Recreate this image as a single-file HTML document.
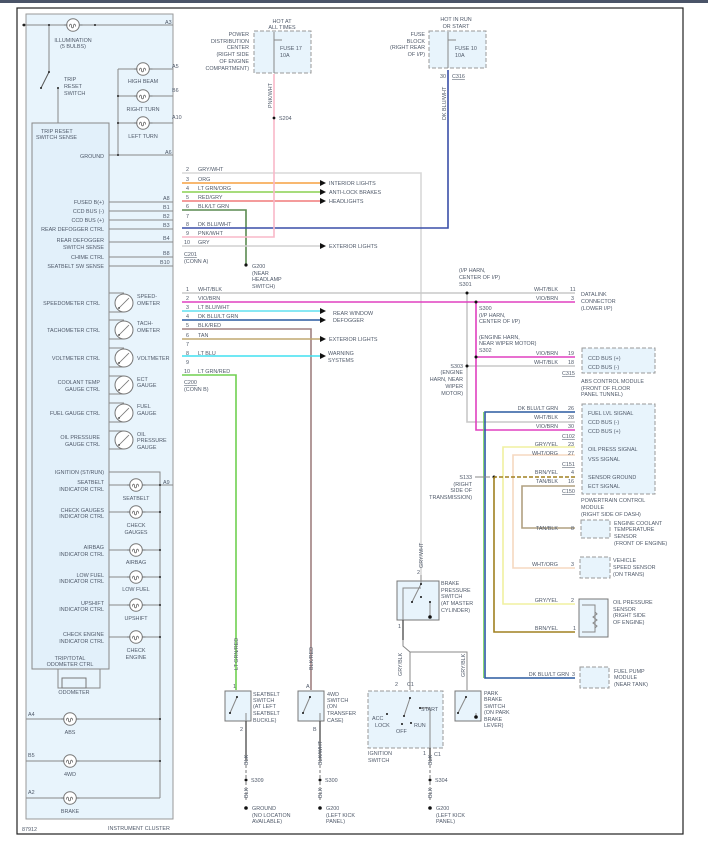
<!DOCTYPE html>
<html><head><meta charset="utf-8"><style>
html,body{margin:0;padding:0;background:#fff}
svg{display:block}
text{font-family:"Liberation Sans",sans-serif;font-size:5.4px;fill:#505a6a}
.e{text-anchor:end}
.w{fill:none;stroke-width:1.6}
.g{stroke:#888;stroke-width:1;fill:none}
</style></head><body>
<svg width="708" height="852" viewBox="0 0 708 852" xmlns="http://www.w3.org/2000/svg">
<defs>
<g id="bulb"><circle r="6.3" fill="#fff" stroke="#777" stroke-width="1"/><path d="M-9,0h3.5M6,0h3.5M-3.5,1.5c0-3 2-3 2-0.5s2 2.5 2 0s2-2.5 2 0.5" fill="none" stroke="#666" stroke-width="0.8"/></g>
<g id="gauge"><circle r="9" fill="#fff" stroke="#777" stroke-width="1"/><path d="M-5,5L5,-5" stroke="#777" stroke-width="0.8"/><circle cx="-5" cy="5" r="0.9" fill="#333"/></g>
</defs>
<rect x="0" y="0" width="708" height="3" fill="#4a5468"/>
<rect x="17" y="8" width="666" height="826" fill="none" stroke="#222" stroke-width="1.2"/>
<!-- cluster -->
<rect x="26" y="14" width="147" height="805" fill="#e8f4fc" stroke="#999" stroke-width="1"/>
<rect x="32" y="123" width="77" height="546" fill="#e2f0fa" stroke="#888" stroke-width="1"/>
<path class="g" d="M22,25H173M49,25V72M58,123V88M118,69V155M109,155H173M118,69H173M118,96H173M118,123H173"/>
<path d="M41,88L49,72" stroke="#555" stroke-width="1"/>
<circle cx="49" cy="72" r="1" fill="#222"/><circle cx="41" cy="88" r="1" fill="#222"/><circle cx="58" cy="88" r="1" fill="#222"/>
<circle cx="49" cy="25" r="1" fill="#222"/><circle cx="24" cy="25" r="1.4" fill="#222"/><circle cx="95" cy="25" r="1" fill="#222"/><circle cx="118" cy="155" r="1" fill="#222"/><circle cx="118" cy="96" r="1" fill="#222"/><circle cx="118" cy="123" r="1" fill="#222"/>
<use href="#bulb" x="73" y="25"/><use href="#bulb" x="143" y="69"/><use href="#bulb" x="143" y="96"/><use href="#bulb" x="143" y="123"/>
<text x="73" y="42" text-anchor="middle">ILLUMINATION</text><text x="73" y="48" text-anchor="middle">(5 BULBS)</text>
<text x="64" y="81">TRIP</text><text x="64" y="88">RESET</text><text x="64" y="95">SWITCH</text>
<text x="143" y="83" text-anchor="middle">HIGH BEAM</text><text x="143" y="111" text-anchor="middle">RIGHT TURN</text><text x="143" y="138" text-anchor="middle">LEFT TURN</text>
<text x="165" y="24">A3</text><text x="172" y="68">A5</text><text x="172" y="92">B6</text><text x="172" y="119">A10</text><text x="165" y="154">A6</text>
<text x="41" y="133">TRIP RESET</text><text x="36" y="139">SWITCH SENSE</text>
<text x="104" y="158" class="e">GROUND</text>
<path class="g" d="M109,202H173M109,211H173M109,220H173M109,229H173M109,242H173M109,257H173M109,266H173"/>
<text x="104" y="204" class="e">FUSED B(+)</text><text x="104" y="213" class="e">CCD BUS (-)</text><text x="104" y="222" class="e">CCD BUS (+)</text><text x="104" y="231" class="e">REAR DEFOGGER CTRL</text>
<text x="104" y="242" class="e">REAR DEFOGGER</text><text x="104" y="249" class="e">SWITCH SENSE</text><text x="104" y="259" class="e">CHIME CTRL</text><text x="104" y="268" class="e">SEATBELT SW SENSE</text>
<text x="163" y="200">A8</text><text x="163" y="209">B1</text><text x="163" y="218">B2</text><text x="163" y="227">B3</text><text x="163" y="240">B4</text><text x="163" y="255">B8</text><text x="160" y="264">B10</text>
<!-- gauges -->
<g class="g"><path d="M109,293H124M109,312H124M109,320H124M109,339H124M109,348H124M109,367H124M109,376H124M109,394H124M109,403H124M109,422H124M109,431H124M109,449H124"/></g>
<use href="#gauge" x="124" y="303"/><use href="#gauge" x="124" y="330"/><use href="#gauge" x="124" y="358"/><use href="#gauge" x="124" y="385"/><use href="#gauge" x="124" y="413"/><use href="#gauge" x="124" y="440"/>
<text x="100" y="305" class="e">SPEEDOMETER CTRL</text><text x="100" y="332" class="e">TACHOMETER CTRL</text><text x="100" y="360" class="e">VOLTMETER CTRL</text>
<text x="100" y="384" class="e">COOLANT TEMP</text><text x="100" y="391" class="e">GAUGE CTRL</text><text x="100" y="415" class="e">FUEL GAUGE CTRL</text>
<text x="100" y="439" class="e">OIL PRESSURE</text><text x="100" y="446" class="e">GAUGE CTRL</text>
<text x="137" y="298">SPEED-</text><text x="137" y="305">OMETER</text><text x="137" y="325">TACH-</text><text x="137" y="332">OMETER</text><text x="137" y="360">VOLTMETER</text>
<text x="137" y="381">ECT</text><text x="137" y="387">GAUGE</text><text x="137" y="408">FUEL</text><text x="137" y="415">GAUGE</text><text x="137" y="436">OIL</text><text x="137" y="442">PRESSURE</text><text x="137" y="449">GAUGE</text>
<!-- indicators -->
<path class="g" d="M109,472H160V798M109,485H173M109,512H160M109,550H160M109,577H160M109,605H160M109,637H160M26,719H160M26,761H160M26,798H160M58,669V688H62M100,669V688H86"/>
<rect x="62" y="678" width="24" height="10" fill="#e8f4fc" stroke="#777"/>
<g fill="#222"><circle cx="160" cy="485" r="1"/><circle cx="160" cy="512" r="1"/><circle cx="160" cy="550" r="1"/><circle cx="160" cy="577" r="1"/><circle cx="160" cy="605" r="1"/><circle cx="160" cy="637" r="1"/><circle cx="160" cy="719" r="1"/><circle cx="160" cy="761" r="1"/></g>
<use href="#bulb" x="136" y="485"/><use href="#bulb" x="136" y="512"/><use href="#bulb" x="136" y="550"/><use href="#bulb" x="136" y="577"/><use href="#bulb" x="136" y="605"/><use href="#bulb" x="136" y="637"/>
<use href="#bulb" x="70" y="719"/><use href="#bulb" x="70" y="761"/><use href="#bulb" x="70" y="798"/>
<text x="104" y="474" class="e">IGNITION (ST/RUN)</text>
<text x="104" y="484" class="e">SEATBELT</text><text x="104" y="491" class="e">INDICATOR CTRL</text>
<text x="104" y="512" class="e">CHECK GAUGES</text><text x="104" y="518" class="e">INDICATOR CTRL</text>
<text x="104" y="549" class="e">AIRBAG</text><text x="104" y="556" class="e">INDICATOR CTRL</text>
<text x="104" y="577" class="e">LOW FUEL</text><text x="104" y="583" class="e">INDICATOR CTRL</text>
<text x="104" y="605" class="e">UPSHIFT</text><text x="104" y="611" class="e">INDICATOR CTRL</text>
<text x="104" y="636" class="e">CHECK ENGINE</text><text x="104" y="643" class="e">INDICATOR CTRL</text>
<text x="70" y="660" text-anchor="middle">TRIP/TOTAL</text><text x="70" y="666" text-anchor="middle">ODOMETER CTRL</text>
<text x="74" y="694" text-anchor="middle">ODOMETER</text>
<text x="136" y="500" text-anchor="middle">SEATBELT</text><text x="136" y="527" text-anchor="middle">CHECK</text><text x="136" y="534" text-anchor="middle">GAUGES</text>
<text x="136" y="564" text-anchor="middle">AIRBAG</text><text x="136" y="591" text-anchor="middle">LOW FUEL</text><text x="136" y="620" text-anchor="middle">UPSHIFT</text>
<text x="136" y="652" text-anchor="middle">CHECK</text><text x="136" y="659" text-anchor="middle">ENGINE</text>
<text x="163" y="484">A9</text><text x="28" y="716">A4</text><text x="28" y="757">B5</text><text x="28" y="794">A2</text>
<text x="70" y="734" text-anchor="middle">ABS</text><text x="70" y="776" text-anchor="middle">4WD</text><text x="70" y="813" text-anchor="middle">BRAKE</text>
<text x="22" y="831">87912</text><text x="108" y="830">INSTRUMENT CLUSTER</text>
<!-- fuse boxes -->
<rect x="254" y="31" width="57" height="42" fill="#e8f4fc" stroke="#999" stroke-dasharray="4,2"/>
<rect x="429" y="31" width="57" height="37" fill="#e8f4fc" stroke="#999" stroke-dasharray="4,2"/>
<path class="g" d="M274,32V73M274,40H282M448,32V68M448,40H456"/>
<text x="282" y="23" text-anchor="middle">HOT AT</text><text x="282" y="29" text-anchor="middle">ALL TIMES</text>
<text x="249" y="36" class="e">POWER</text><text x="249" y="43" class="e">DISTRIBUTION</text><text x="249" y="49" class="e">CENTER</text><text x="249" y="56" class="e">(RIGHT SIDE</text><text x="249" y="63" class="e">OF ENGINE</text><text x="249" y="70" class="e">COMPARTMENT)</text>
<text x="280" y="50">FUSE 17</text><text x="280" y="57">10A</text>
<text x="456" y="21" text-anchor="middle">HOT IN RUN</text><text x="456" y="28" text-anchor="middle">OR START</text>
<text x="425" y="36" class="e">FUSE</text><text x="425" y="43" class="e">BLOCK</text><text x="425" y="49" class="e">(RIGHT REAR</text><text x="425" y="56" class="e">OF I/P)</text>
<text x="455" y="50">FUSE 10</text><text x="455" y="57">10A</text>
<text x="440" y="78">30</text><text x="452" y="78" text-decoration="underline">C316</text>
<!-- wires conn A -->
<path class="w" stroke="#d8d8d8" d="M182,173H421V575"/>
<path class="w" stroke="#f5a040" d="M182,183H320"/>
<path class="w" stroke="#8ad050" d="M182,192H320"/>
<path class="w" stroke="#f07a7a" d="M182,201H320"/>
<path class="w" stroke="#5a8a50" d="M182,210H246V265"/>
<path class="w" stroke="#3a4fa8" d="M182,228H448V70"/>
<path class="w" stroke="#f8b8c8" d="M182,237H274V74"/>
<path class="w" stroke="#d0d0d0" d="M182,246H320"/>
<g fill="#111"><path d="M320,180l6,3l-6,3z M320,189l6,3l-6,3z M320,198l6,3l-6,3z M320,243l6,3l-6,3z M320,308l6,3l-6,3z M320,317l6,3l-6,3z M320,336l6,3l-6,3z M320,353l6,3l-6,3z"/>
<circle cx="274" cy="118" r="1.4"/><circle cx="246" cy="265" r="1.6"/></g>
<text x="186" y="171">2</text><text x="198" y="171">GRY/WHT</text><text x="186" y="181">3</text><text x="198" y="181">ORG</text>
<text x="186" y="190">4</text><text x="198" y="190">LT GRN/ORG</text><text x="186" y="199">5</text><text x="198" y="199">RED/GRY</text>
<text x="186" y="208">6</text><text x="198" y="208">BLK/LT GRN</text><text x="186" y="218">7</text>
<text x="186" y="226">8</text><text x="198" y="226">DK BLU/WHT</text><text x="186" y="235">9</text><text x="198" y="235">PNK/WHT</text>
<text x="184" y="244">10</text><text x="198" y="244">GRY</text>
<text x="184" y="256" text-decoration="underline">C201</text><text x="184" y="263">(CONN A)</text>
<text x="329" y="185">INTERIOR LIGHTS</text><text x="329" y="194">ANTI-LOCK BRAKES</text><text x="329" y="203">HEADLIGHTS</text><text x="329" y="248">EXTERIOR LIGHTS</text>
<text x="252" y="268">G200</text><text x="252" y="275">(NEAR</text><text x="252" y="281">HEADLAMP</text><text x="252" y="288">SWITCH)</text>
<text x="279" y="120">S204</text>
<text transform="translate(272,108) rotate(-90)">PNK/WHT</text>
<text transform="translate(446,120) rotate(-90)">DK BLU/WHT</text>
<!-- conn B -->
<path class="w" stroke="#c8c8c8" d="M182,293H575M467,293V422H575M467,366H575"/>
<path class="w" stroke="#e040c0" d="M182,302H575M476,302V430H575M476,357H575"/>
<path class="w" stroke="#60e0f0" d="M182,311H320"/>
<path class="w" stroke="#2a5aa0" d="M182,320H320"/>
<path class="w" stroke="#a08080" d="M182,329H311V690"/>
<path class="w" stroke="#c0a870" d="M182,339H320"/>
<path class="w" stroke="#40e0f0" d="M182,356H320"/>
<path class="w" stroke="#70d050" d="M182,375H236V690"/>
<g fill="#111"><circle cx="467" cy="293" r="1.5"/><circle cx="476" cy="302" r="1.5"/><circle cx="476" cy="357" r="1.5"/><circle cx="467" cy="366" r="1.5"/><circle cx="494" cy="477" r="1.5"/></g>
<text x="186" y="291">1</text><text x="198" y="291">WHT/BLK</text><text x="186" y="300">2</text><text x="198" y="300">VIO/BRN</text>
<text x="186" y="309">3</text><text x="198" y="309">LT BLU/WHT</text><text x="186" y="318">4</text><text x="198" y="318">DK BLU/LT GRN</text>
<text x="186" y="327">5</text><text x="198" y="327">BLK/RED</text><text x="186" y="337">6</text><text x="198" y="337">TAN</text>
<text x="186" y="346">7</text><text x="186" y="355">8</text><text x="198" y="355">LT BLU</text><text x="186" y="364">9</text>
<text x="184" y="373">10</text><text x="198" y="373">LT GRN/RED</text>
<text x="184" y="384" text-decoration="underline">C200</text><text x="184" y="391">(CONN B)</text>
<text x="333" y="315">REAR WINDOW</text><text x="333" y="322">DEFOGGER</text><text x="329" y="341">EXTERIOR LIGHTS</text>
<text x="328" y="355">WARNING</text><text x="328" y="362">SYSTEMS</text>
<text x="459" y="272">(I/P HARN,</text><text x="459" y="279">CENTER OF I/P)</text><text x="459" y="286">S301</text>
<text x="479" y="310">S300</text><text x="479" y="317">(I/P HARN,</text><text x="479" y="323">CENTER OF I/P)</text>
<text x="479" y="339">(ENGINE HARN,</text><text x="479" y="345">NEAR WIPER MOTOR)</text><text x="479" y="352">S302</text>
<text x="463" y="368" class="e">S303</text><text x="463" y="374" class="e">(ENGINE</text><text x="463" y="381" class="e">HARN, NEAR</text><text x="463" y="388" class="e">WIPER</text><text x="463" y="395" class="e">MOTOR)</text>
<text x="558" y="291" class="e">WHT/BLK</text><text x="570" y="291">11</text><text x="558" y="300" class="e">VIO/BRN</text><text x="571" y="300">3</text>
<text x="581" y="296">DATALINK</text><text x="581" y="303">CONNECTOR</text><text x="581" y="310">(LOWER I/P)</text>
<!-- ABS -->
<rect x="582" y="348" width="73" height="25" fill="#e8f4fc" stroke="#999" stroke-dasharray="4,2"/>
<text x="558" y="355" class="e">VIO/BRN</text><text x="568" y="355">19</text><text x="558" y="364" class="e">WHT/BLK</text><text x="568" y="364">18</text>
<text x="588" y="360">CCD BUS (+)</text><text x="588" y="369">CCD BUS (-)</text><text x="562" y="375" text-decoration="underline">C315</text>
<text x="581" y="383">ABS CONTROL MODULE</text><text x="581" y="390">(FRONT OF FLOOR</text><text x="581" y="396">PANEL TUNNEL)</text>
<!-- PCM -->
<rect x="582" y="404" width="73" height="90" fill="#e8f4fc" stroke="#999" stroke-dasharray="4,2"/>
<path class="w" stroke="#2a5aa0" d="M575,412H485V678H575"/>
<path d="M483.5,412V678" stroke="#70d050" stroke-width="0.8"/>
<path class="w" stroke="#f0f0a0" d="M575,447H503V604H575"/>
<path class="w" stroke="#f5d8c0" d="M575,455H513V568H575"/>
<path class="w" stroke="#a08020" d="M575,477H494" stroke-dasharray="4,2"/>
<path class="w" stroke="#a08020" d="M494,477V632H575"/>
<path class="w" stroke="#b0a080" d="M575,486H522V528H575"/>
<path class="g" d="M475,477H490"/>
<text x="558" y="410" class="e">DK BLU/LT GRN</text><text x="568" y="410">26</text>
<text x="558" y="419" class="e">WHT/BLK</text><text x="568" y="419">28</text>
<text x="558" y="428" class="e">VIO/BRN</text><text x="568" y="428">30</text><text x="562" y="438" text-decoration="underline">C102</text>
<text x="558" y="446" class="e">GRY/YEL</text><text x="568" y="446">23</text>
<text x="558" y="455" class="e">WHT/ORG</text><text x="568" y="455">27</text><text x="562" y="466" text-decoration="underline">C151</text>
<text x="558" y="474" class="e">BRN/YEL</text><text x="571" y="474">4</text>
<text x="558" y="483" class="e">TAN/BLK</text><text x="568" y="483">16</text><text x="562" y="493" text-decoration="underline">C150</text>
<text x="588" y="415">FUEL LVL SIGNAL</text><text x="588" y="424">CCD BUS (-)</text><text x="588" y="433">CCD BUS (+)</text>
<text x="588" y="451">OIL PRESS SIGNAL</text><text x="588" y="461">VSS SIGNAL</text><text x="588" y="479">SENSOR GROUND</text><text x="588" y="488">ECT SIGNAL</text>
<text x="581" y="502">POWERTRAIN CONTROL</text><text x="581" y="509">MODULE</text><text x="581" y="516">(RIGHT SIDE OF DASH)</text>
<text x="472" y="479" class="e">S133</text><text x="472" y="486" class="e">(RIGHT</text><text x="472" y="492" class="e">SIDE OF</text><text x="472" y="499" class="e">TRANSMISSION)</text>
<!-- sensors -->
<rect x="581" y="520" width="29" height="18" fill="#e8f4fc" stroke="#999" stroke-dasharray="4,2"/>
<rect x="580" y="557" width="30" height="21" fill="#e8f4fc" stroke="#999" stroke-dasharray="4,2"/>
<rect x="579" y="599" width="29" height="38" fill="#e8f4fc" stroke="#777"/>
<rect x="580" y="667" width="29" height="21" fill="#e8f4fc" stroke="#999" stroke-dasharray="4,2"/>
<path class="g" d="M582,605H595V632H582M595,612l2,2l-4,3l4,3l-4,3l4,3l-2,2"/>
<text x="558" y="530" class="e">TAN/BLK</text><text x="571" y="530">8</text>
<text x="614" y="525">ENGINE COOLANT</text><text x="614" y="531">TEMPERATURE</text><text x="614" y="538">SENSOR</text><text x="614" y="545">(FRONT OF ENGINE)</text>
<text x="558" y="566" class="e">WHT/ORG</text><text x="571" y="566">3</text>
<text x="613" y="562">VEHICLE</text><text x="613" y="569">SPEED SENSOR</text><text x="613" y="576">(ON TRANS)</text>
<text x="558" y="602" class="e">GRY/YEL</text><text x="571" y="602">2</text><text x="558" y="630" class="e">BRN/YEL</text><text x="573" y="630">1</text>
<text x="613" y="604">OIL PRESSURE</text><text x="613" y="611">SENSOR</text><text x="613" y="617">(RIGHT SIDE</text><text x="613" y="624">OF ENGINE)</text>
<text x="569" y="676" class="e">DK BLU/LT GRN</text><text x="572" y="676">3</text>
<text x="614" y="673">FUEL PUMP</text><text x="614" y="679">MODULE</text><text x="614" y="686">(NEAR TANK)</text>
<!-- bottom switches -->
<rect x="397" y="581" width="42" height="39" fill="#e8f4fc" stroke="#777"/>
<rect x="368" y="691" width="75" height="57" fill="#e8f4fc" stroke="#999" stroke-dasharray="4,2"/>
<rect x="225" y="691" width="26" height="30" fill="#e8f4fc" stroke="#777"/>
<rect x="298" y="691" width="26" height="30" fill="#e8f4fc" stroke="#777"/>
<rect x="455" y="691" width="26" height="30" fill="#e8f4fc" stroke="#777"/>
<path class="g" d="M403,620V646L410,652V690M410,652L467,652V690M421,575V584L412,602M403,620V588H421M430,602V617M230,713L237,697M303,713L310,697M458,713L466,697M246,713V721M320,713V721M476,713V717M410,698L404,716M420,708H430V748"/>
<path stroke="#555" stroke-width="1.4" fill="none" d="M246,721V760M320,721V760M430,748V760M403,620V640"/>
<path stroke="#777" stroke-width="1" stroke-dasharray="3,2" fill="none" d="M246,760V780M320,760V780M430,760V780M246,782V800M320,782V800M430,782V800"/>
<g fill="#111"><circle cx="412" cy="602" r="1"/><circle cx="421" cy="584" r="1"/><circle cx="421" cy="597" r="1"/><circle cx="430" cy="602" r="1"/><circle cx="430" cy="617" r="1.8"/>
<circle cx="230" cy="713" r="1"/><circle cx="237" cy="697" r="1"/><circle cx="303" cy="713" r="1"/><circle cx="310" cy="697" r="1"/><circle cx="458" cy="713" r="1"/><circle cx="466" cy="697" r="1"/><circle cx="476" cy="717" r="1.8"/>
<circle cx="410" cy="698" r="1"/><circle cx="404" cy="716" r="1"/><circle cx="387" cy="714" r="1"/><circle cx="402" cy="724" r="1"/><circle cx="411" cy="723" r="1"/><circle cx="420" cy="708" r="1"/>
<circle cx="246" cy="780" r="1.5"/><circle cx="320" cy="780" r="1.5"/><circle cx="430" cy="780" r="1.5"/><circle cx="246" cy="808" r="1.8"/><circle cx="320" cy="808" r="1.8"/><circle cx="430" cy="808" r="1.8"/></g>
<text x="441" y="585">BRAKE</text><text x="441" y="592">PRESSURE</text><text x="441" y="598">SWITCH</text><text x="441" y="605">(AT MASTER</text><text x="441" y="612">CYLINDER)</text>
<text x="417" y="574">2</text><text x="398" y="628">1</text>
<text x="253" y="696">SEATBELT</text><text x="253" y="702">SWITCH</text><text x="253" y="708">(AT LEFT</text><text x="253" y="715">SEATBELT</text><text x="253" y="722">BUCKLE)</text>
<text x="327" y="696">4WD</text><text x="327" y="702">SWITCH</text><text x="327" y="708">(ON</text><text x="327" y="715">TRANSFER</text><text x="327" y="722">CASE)</text>
<text x="484" y="695">PARK</text><text x="484" y="701">BRAKE</text><text x="484" y="708">SWITCH</text><text x="484" y="714">(ON PARK</text><text x="484" y="721">BRAKE</text><text x="484" y="727">LEVER)</text>
<text x="372" y="720">ACC</text><text x="375" y="727">LOCK</text><text x="396" y="733">OFF</text><text x="414" y="727">RUN</text><text x="421" y="711">START</text>
<text x="368" y="755">IGNITION</text><text x="368" y="762">SWITCH</text>
<text x="233" y="688">1</text><text x="306" y="688">A</text><text x="240" y="731">2</text><text x="313" y="731">B</text><text x="395" y="686">2</text><text x="407" y="686">C1</text><text x="423" y="755">1</text><text x="434" y="756">C1</text>
<text x="251" y="782">S309</text><text x="325" y="782">S300</text><text x="435" y="782">S304</text>
<text x="252" y="810">GROUND</text><text x="252" y="817">(NO LOCATION</text><text x="252" y="823">AVAILABLE)</text>
<text x="326" y="810">G200</text><text x="326" y="817">(LEFT KICK</text><text x="326" y="823">PANEL)</text>
<text x="436" y="810">G200</text><text x="436" y="817">(LEFT KICK</text><text x="436" y="823">PANEL)</text>
<text transform="translate(238,670) rotate(-90)">LT GRN/RED</text>
<text transform="translate(313,670) rotate(-90)">BLK/RED</text>
<text transform="translate(423,568) rotate(-90)">GRY/WHT</text>
<text transform="translate(402,676) rotate(-90)">GRY/BLK</text>
<text transform="translate(465,677) rotate(-90)">GRY/BLK</text>
<text transform="translate(248,765) rotate(-90)">BLK</text><text transform="translate(322,765) rotate(-90)">BLK/WHT</text><text transform="translate(432,765) rotate(-90)">BLK</text>
<text transform="translate(248,798) rotate(-90)">BLK</text><text transform="translate(322,798) rotate(-90)">BLK</text><text transform="translate(432,798) rotate(-90)">BLK</text>
</svg>
</body></html>
